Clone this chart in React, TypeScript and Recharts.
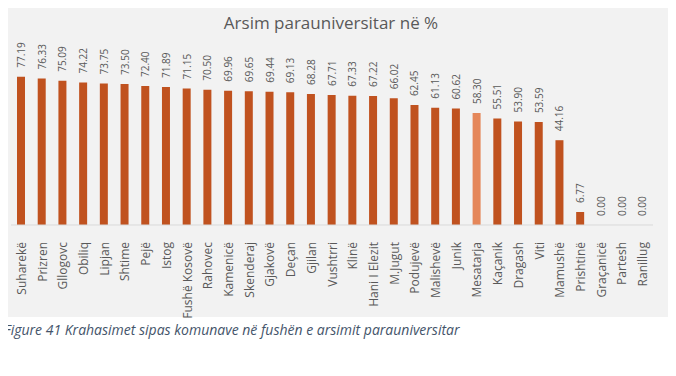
import React from "react";
import { BarChart, Bar, XAxis, YAxis, Cell, LabelList } from "recharts";

const municipalities = [
  "Suharekë", "Prizren", "Gllogovc", "Obiliq", "Lipjan", "Shtime", "Pejë", "Istog",
  "Fushë Kosovë", "Rahovec", "Kamenicë", "Skenderaj", "Gjakovë", "Deçan", "Gjilan",
  "Vushtrri", "Klinë", "Hani I Elezit", "M.Jugut", "Podujevë", "Malishevë", "Junik",
  "Mesatarja", "Kaçanik", "Dragash", "Viti", "Mamushë", "Prishtinë", "Graçanicë",
  "Partesh", "Ranillug",
];

const percentages = [
  77.19, 76.33, 75.09, 74.22, 73.75, 73.5, 72.4, 71.89, 71.15, 70.5, 69.96, 69.65,
  69.44, 69.13, 68.28, 67.71, 67.33, 67.22, 66.02, 62.45, 61.13, 60.62, 58.3, 55.51,
  53.9, 53.59, 44.16, 6.77, 0, 0, 0,
];

const highlight = "Mesatarja";

const data = municipalities.map((name, i) => ({ name, value: percentages[i] }));

const FONT = "'Open Sans', 'Liberation Sans', sans-serif";
const TEXT = "#595959";

const barColor = (d: { name: string; value: number }) => {
  if (d.value === 0) return "transparent";
  return d.name === highlight ? "#e5875a" : "#c0521f";
};

const CategoryTick = (props: any) => {
  const { x, y, payload } = props;
  return (
    <text
      x={0}
      y={0}
      transform={`translate(${x},${y + 9}) rotate(-90)`}
      textAnchor="end"
      dominantBaseline="central"
      fontSize={12}
      fontFamily={FONT}
      fill={TEXT}
    >
      {payload.value}
    </text>
  );
};

const ValueLabel = (props: any) => {
  const { x, y, width, height, value } = props;
  const cx = x + width / 2;
  // zero bars are drawn with a 1px min size, so anchor to the baseline
  const top = Number(value) === 0 ? y + height : y;
  return (
    <text
      x={0}
      y={0}
      transform={`translate(${cx},${top - 9}) rotate(-90)`}
      textAnchor="start"
      dominantBaseline="central"
      fontSize={10}
      fontFamily={FONT}
      fill={TEXT}
    >
      {Number(value).toFixed(2)}
    </text>
  );
};

export default function App() {
  return (
    <div style={{ position: "relative", width: 676, height: 376, margin: -8, background: "#fff", overflow: "hidden" }}>
      <div style={{ position: "absolute", left: 0, top: 2, width: 668, height: 315, background: "#f2f2f2" }} />
      <div
        style={{
          position: "absolute",
          left: 0,
          top: 11,
          width: 662,
          textAlign: "center",
          fontFamily: FONT,
          fontSize: 17,
          color: TEXT,
        }}
      >
        Arsim parauniversitar në %
      </div>
      <div style={{ position: "absolute", left: 0, top: 0 }}>
        <BarChart
          width={676}
          height={330}
          data={data}
          margin={{ top: 33, right: 23, bottom: 10, left: 11 }}
        >
          <XAxis
            dataKey="name"
            interval={0}
            height={95}
            tickLine={false}
            axisLine={{ stroke: "#d9d9d9" }}
            tick={<CategoryTick />}
          />
          <YAxis hide domain={[0, 100]} />
          <Bar dataKey="value" barSize={8} minPointSize={1} isAnimationActive={false}>
            {data.map((d) => (
              <Cell key={d.name} fill={barColor(d)} />
            ))}
            <LabelList dataKey="value" content={<ValueLabel />} />
          </Bar>
        </BarChart>
      </div>
      <div
        style={{
          position: "absolute",
          left: 4,
          top: 320,
          fontFamily: FONT,
          fontStyle: "italic",
          fontSize: 14,
          color: "#44546a",
          whiteSpace: "nowrap",
        }}
      >
        Figure 41 Krahasimet sipas komunave në fushën e arsimit parauniversitar
      </div>
    </div>
  );
}
